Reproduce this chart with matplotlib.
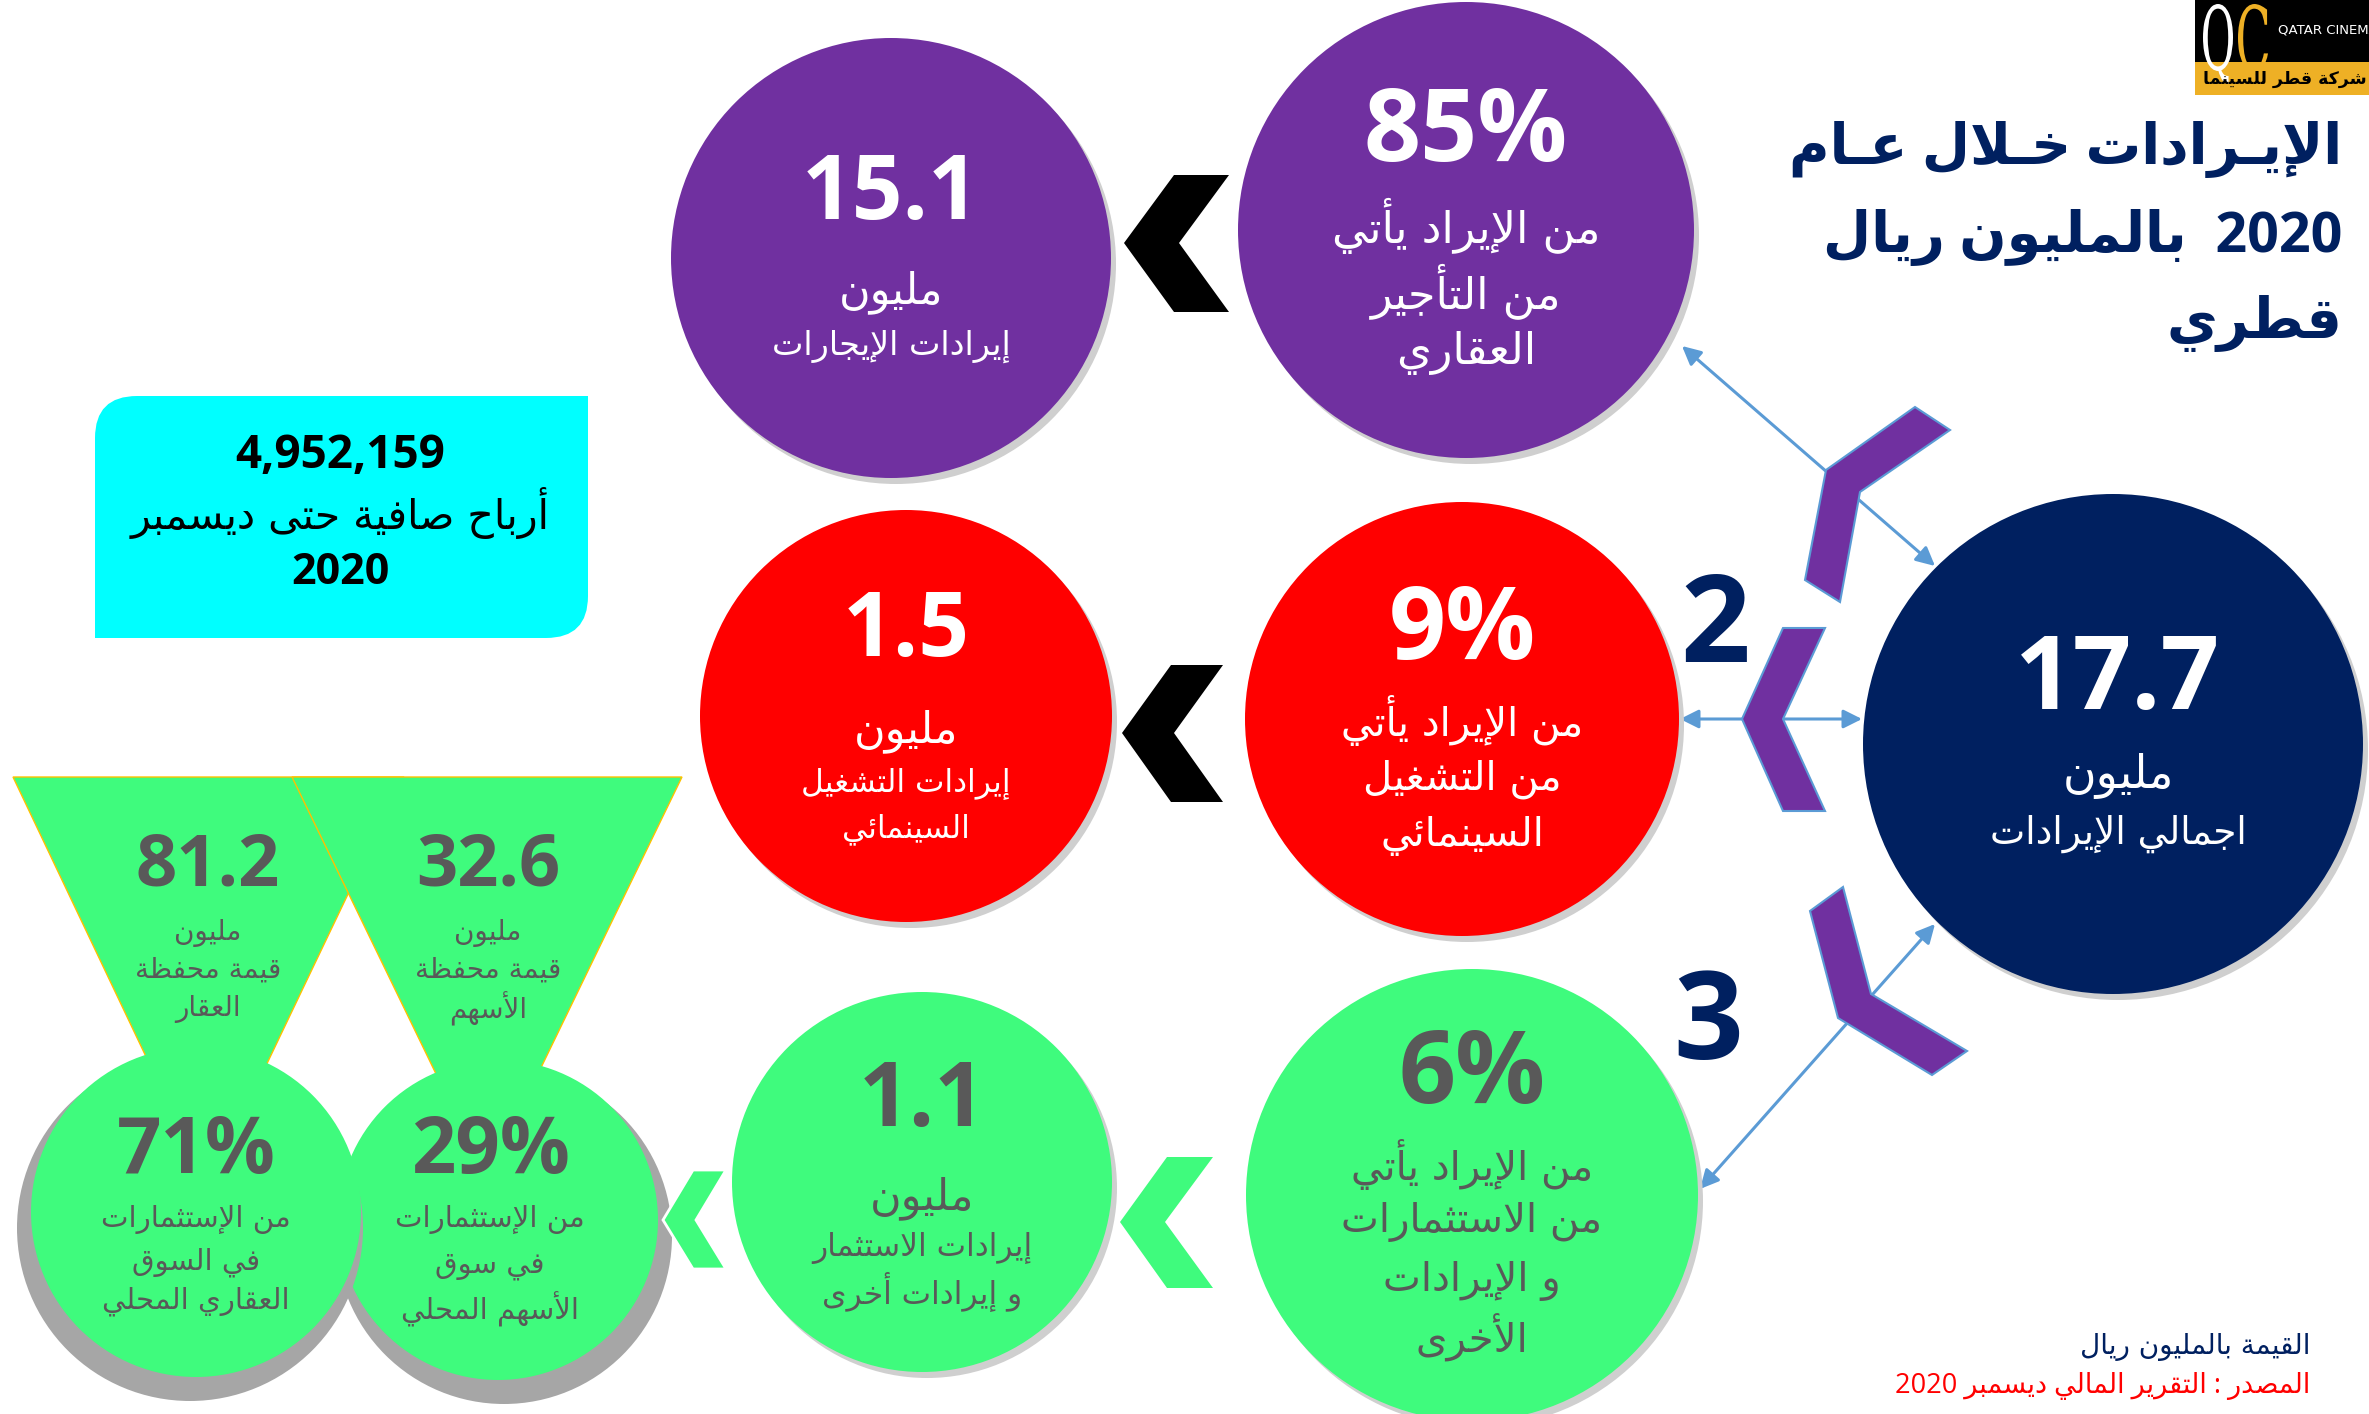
import re
import matplotlib.pyplot as plt
from matplotlib.patches import Circle, Polygon, PathPatch, Rectangle
from matplotlib.path import Path
from matplotlib.textpath import TextPath
from matplotlib.font_manager import FontProperties
from matplotlib.transforms import Affine2D

# ---- data (million QAR, 2020) ----
total_revenue = 17.7
revenue_values = [15.1, 1.5, 1.1]
revenue_shares = [85, 9, 6]
revenue_labels = [['إيرادات الإيجارات'],
                  ['إيرادات التشغيل', 'السينمائي'],
                  ['إيرادات الاستثمار', 'و إيرادات أخرى']]
share_labels = [['من الإيراد يأتي', 'من التأجير', 'العقاري'],
                ['من الإيراد يأتي', 'من التشغيل', 'السينمائي'],
                ['من الإيراد يأتي', 'من الاستثمارات', 'و الإيرادات', 'الأخرى']]
portfolio_values = [81.2, 32.6]
portfolio_labels = [['قيمة محفظة', 'العقار'], ['قيمة محفظة', 'الأسهم']]
portfolio_shares = [71, 29]
portfolio_share_labels = [['من الإستثمارات', 'في السوق', 'العقاري المحلي'],
                          ['من الإستثمارات', 'في سوق', 'الأسهم المحلي']]
net_profit = 4952159
title_lines = ['الإيـرادات خـلال عـام', '2020  بالمليون ريال', 'قطري']
unit_note = 'القيمة بالمليون ريال'
source_note = 'المصدر : التقرير المالي ديسمبر 2020'
million = 'مليون'

# ---- arabic shaping (matplotlib has no complex text layout) ----
_forms = [('ء', 0xFE80, 1), ('آ', 0xFE81, 2), ('أ', 0xFE83, 2), ('ؤ', 0xFE85, 2),
          ('إ', 0xFE87, 2), ('ئ', 0xFE89, 4), ('ا', 0xFE8D, 2), ('ب', 0xFE8F, 4),
          ('ة', 0xFE93, 2), ('ت', 0xFE95, 4), ('ث', 0xFE99, 4), ('ج', 0xFE9D, 4),
          ('ح', 0xFEA1, 4), ('خ', 0xFEA5, 4), ('د', 0xFEA9, 2), ('ذ', 0xFEAB, 2),
          ('ر', 0xFEAD, 2), ('ز', 0xFEAF, 2), ('س', 0xFEB1, 4), ('ش', 0xFEB5, 4),
          ('ص', 0xFEB9, 4), ('ض', 0xFEBD, 4), ('ط', 0xFEC1, 4), ('ظ', 0xFEC5, 4),
          ('ع', 0xFEC9, 4), ('غ', 0xFECD, 4), ('ف', 0xFED1, 4), ('ق', 0xFED5, 4),
          ('ك', 0xFED9, 4), ('ل', 0xFEDD, 4), ('م', 0xFEE1, 4), ('ن', 0xFEE5, 4),
          ('ه', 0xFEE9, 4), ('و', 0xFEED, 2), ('ى', 0xFEEF, 2), ('ي', 0xFEF1, 4)]
FORMS = {c: (b, n) for c, b, n in _forms}
LAM_ALEF = {'آ': 0xFEF5, 'أ': 0xFEF7, 'إ': 0xFEF9, 'ا': 0xFEFB}


def ar(text):
    units = []
    i = 0
    while i < len(text):
        if text[i] == 'ل' and i + 1 < len(text) and text[i + 1] in LAM_ALEF:
            units.append(('la', text[i + 1]))
            i += 2
        else:
            units.append(text[i])
            i += 1

    def dual(u):
        return u == 'ـ' or (u in FORMS and FORMS[u][1] == 4)

    def joinable(u):
        return isinstance(u, tuple) or u == 'ـ' or (u in FORMS and FORMS[u][1] > 1)

    out = []
    for k, u in enumerate(units):
        prev = units[k - 1] if k > 0 else None
        nxt = units[k + 1] if k + 1 < len(units) else None
        jp = prev is not None and dual(prev) and joinable(u)
        jn = nxt is not None and dual(u) and joinable(nxt)
        if isinstance(u, tuple):
            out.append(chr(LAM_ALEF[u[1]] + jp))
        elif u in FORMS:
            base, n = FORMS[u]
            if n == 1:
                out.append(chr(base))
            elif n == 2:
                out.append(chr(base + jp))
            else:
                out.append(chr(base + [[0, 2], [1, 3]][jp][jn]))
        else:
            out.append(u)
    vis = ''.join(out)[::-1]
    return re.sub(r'[0-9A-Za-z.,%]+', lambda m: m.group(0)[::-1], vis)


AR = ['DejaVu Sans']
NUM = ['Open Sans', 'DejaVu Sans']

PURPLE, RED, NAVY, GREEN = '#7030A0', '#FF0000', '#002060', '#3FFB7D'
GREY, BLUE = '#595959', '#5B9BD5'

fig = plt.figure(figsize=(23.69, 14.14), dpi=100)
ax = fig.add_axes([0, 0, 1, 1])
ax.set_xlim(0, 2369)
ax.set_ylim(1414, 0)
ax.axis('off')


def txt(x, y, s, size, color, weight='normal', ha='center', family=AR, z=6):
    ax.text(x, y, ar(s), fontsize=size, color=color, fontweight=weight,
            ha=ha, va='center', family=family, zorder=z)


def num(x, y, s, size, color):
    ax.text(x, y, s, fontsize=size, color=color, fontweight='bold',
            ha='center', va='center', family=NUM, zorder=6)


def disc(cx, cy, r, color, shadow='#cfcfcf', dx=5, dy=6, grow=0, z=3):
    ax.add_patch(Circle((cx + dx, cy + dy), r + grow, fc=shadow, ec='none', zorder=z - 0.5))
    ax.add_patch(Circle((cx, cy), r, fc=color, ec='none', zorder=z))


def chevron(pts, color, edge='none', lw=0):
    ax.add_patch(Polygon(pts, closed=True, fc=color, ec=edge, lw=lw, zorder=5))


def tall_letter(ch, x, y_bottom, w, h, color):
    tp = TextPath((0, 0), ch, size=100, prop=FontProperties(family='DejaVu Serif'))
    bb = tp.get_extents()
    tr = (Affine2D().translate(-bb.x0, -bb.y0)
          .scale(w / bb.width, -h / bb.height).translate(x, y_bottom))
    ax.add_patch(PathPatch(tr.transform_path(tp), fc=color, ec='none', zorder=6))


# arrows to total (drawn first so chevrons sit on top)
arrow_kw = dict(arrowstyle='<|-|>', color=BLUE, lw=2.2, mutation_scale=28,
                shrinkA=0, shrinkB=0)
for a, b in [((1682, 346), (1935, 566)), ((1680, 719), (1862, 719)),
             ((1700, 1189), (1935, 924))]:
    ax.annotate('', xy=b, xytext=a, arrowprops=arrow_kw, zorder=2)

# total revenue
disc(2113, 744, 250, NAVY)
num(2118, 683, f'{total_revenue:.1f}', 74, 'white')
txt(2118, 776, million, 33, 'white')
txt(2118, 834, 'اجمالي الإيرادات', 27, 'white')

# share circles (right column) and value circles (middle column)
share_pos = [(1466, 230, 228), (1462, 719, 217), (1472, 1195, 226)]
value_pos = [(891, 258, 220), (906, 716, 206), (922, 1182, 190)]
row_colors = [PURPLE, RED, GREEN]
text_colors = ['white', 'white', GREY]
share_num_y = [134, 633, 1077]
value_num_y = [196, 633, 1103]
share_text_y = [[226, 291, 353], [720, 779, 836], [1164, 1222, 1281, 1338]]
share_text_size = [32, 29, 29]
value_text_y = [[292, 346], [731, 783, 829], [1198, 1248, 1291]]
value_text_size = [24, 22.5, 22.5]
for i in range(3):
    cx, cy, r = share_pos[i]
    disc(cx, cy, r, row_colors[i])
    num(cx, share_num_y[i], f'{revenue_shares[i]}%', 72, text_colors[i])
    for s, y in zip(share_labels[i], share_text_y[i]):
        txt(cx, y, s, share_text_size[i], text_colors[i])

    cx, cy, r = value_pos[i]
    disc(cx, cy, r, row_colors[i])
    num(cx, value_num_y[i], f'{revenue_values[i]:.1f}', 64, text_colors[i])
    ys = value_text_y[i]
    txt(cx, ys[0], million, 31, text_colors[i])
    for s, y in zip(revenue_labels[i], ys[1:]):
        txt(cx, y, s, value_text_size[i], text_colors[i])

# chevrons between the columns
chevron([(1174, 175), (1229, 175), (1179, 243), (1229, 312), (1174, 312), (1124, 243)], 'black')
chevron([(1171, 665), (1223, 665), (1174, 733), (1223, 802), (1171, 802), (1122, 733)], 'black')
chevron([(1167, 1157), (1213, 1157), (1165, 1222), (1213, 1288), (1167, 1288), (1120, 1222)], GREEN)
chevron([(693, 1170), (726, 1170), (696, 1220), (726, 1269), (693, 1269), (663, 1220)], GREEN,
        edge='white', lw=2)

# purple chevrons around the total
chevron([(1915, 407), (1950, 430), (1860, 492), (1840, 602), (1805, 580), (1826, 470)], PURPLE, BLUE, 1.5)
chevron([(1783, 628), (1825, 628), (1783, 719), (1825, 811), (1783, 811), (1742, 719)], PURPLE, BLUE, 1.5)
chevron([(1810, 911), (1843, 887), (1871, 994), (1967, 1051), (1932, 1075), (1838, 1018)], PURPLE, BLUE, 1.5)
num(1715, 630, '2', 88, NAVY)
num(1708, 1027, '3', 88, NAVY)

# portfolio triangles + share circles
tri = [[(13, 777), (404, 777), (208, 1187)], [(292, 777), (682, 777), (487, 1179)]]
tri_x = [208, 488]
for i in range(2):
    ax.add_patch(Polygon(tri[i], closed=True, fc=GREEN, ec='#FFC000', lw=1, zorder=1 + i * 0.1))
    num(tri_x[i], 867, f'{portfolio_values[i]:.1f}', 52, GREY)
    txt(tri_x[i], 933, million, 20, GREY)
    for s, y in zip(portfolio_labels[i], [970, 1009]):
        txt(tri_x[i], y, s, 20, GREY)

small_pos = [(196, 1212, 165), (498, 1220, 160)]
small_text_y = [[1219, 1262, 1301], [1219, 1266, 1309]]
for i in [1, 0]:
    cx, cy, r = small_pos[i]
    disc(cx, cy, r, GREEN, shadow='#a6a6a6', dx=-6 if i == 0 else 6, dy=16, grow=8, z=3 + (1 - i))
    tx = cx if i == 0 else cx - 8
    num(tx, 1152, f'{portfolio_shares[i]}%', 56, GREY)
    for s, y in zip(portfolio_share_labels[i], small_text_y[i]):
        txt(tx, y, s, 21, GREY)

# net profit box (rounded top-left and bottom-right corners)
x0, x1, y0, y1, rad = 95, 588, 396, 638, 42
box = Path([(x0 + rad, y0), (x1, y0), (x1, y1 - rad), (x1, y1), (x1 - rad, y1),
            (x0, y1), (x0, y0 + rad), (x0, y0), (x0 + rad, y0), (x0 + rad, y0)],
           [Path.MOVETO, Path.LINETO, Path.LINETO, Path.CURVE3, Path.CURVE3,
            Path.LINETO, Path.LINETO, Path.CURVE3, Path.CURVE3, Path.CLOSEPOLY])
ax.add_patch(PathPatch(box, fc='#00FFFF', ec='none', zorder=1))
num(340, 455, f'{net_profit:,}', 33, 'black')
txt(340, 513, 'أرباح صافية حتى ديسمبر', 29.5, 'black')
num(340, 573, '2020', 31, 'black')

# title
for s, y in zip(title_lines, [150, 238, 324]):
    txt(2342, y, s, 40, NAVY, weight='bold', ha='right', family=NUM)

# notes
txt(2310, 1347, unit_note, 20, NAVY, ha='right')
txt(2310, 1386, source_note, 19.5, RED, ha='right', family=NUM)

# logo
ax.add_patch(Rectangle((2195, 0), 174, 62, fc='black', ec='none', zorder=1))
ax.add_patch(Rectangle((2195, 62), 174, 33, fc='#EEB025', ec='none', zorder=1))
tall_letter('Q', 2203, 84, 30, 80, 'white')
tall_letter('C', 2238, 72, 30, 68, '#EEB025')
ax.text(2278, 30, 'QATAR CINEMA', fontsize=9.5, color='white', ha='left', va='center',
        family=['Liberation Sans Narrow', 'DejaVu Sans'], zorder=6)
txt(2367, 79, 'شركة قطر للسينما', 12.5, 'black', weight='bold', ha='right')

fig.savefig('out.png', dpi=100)
